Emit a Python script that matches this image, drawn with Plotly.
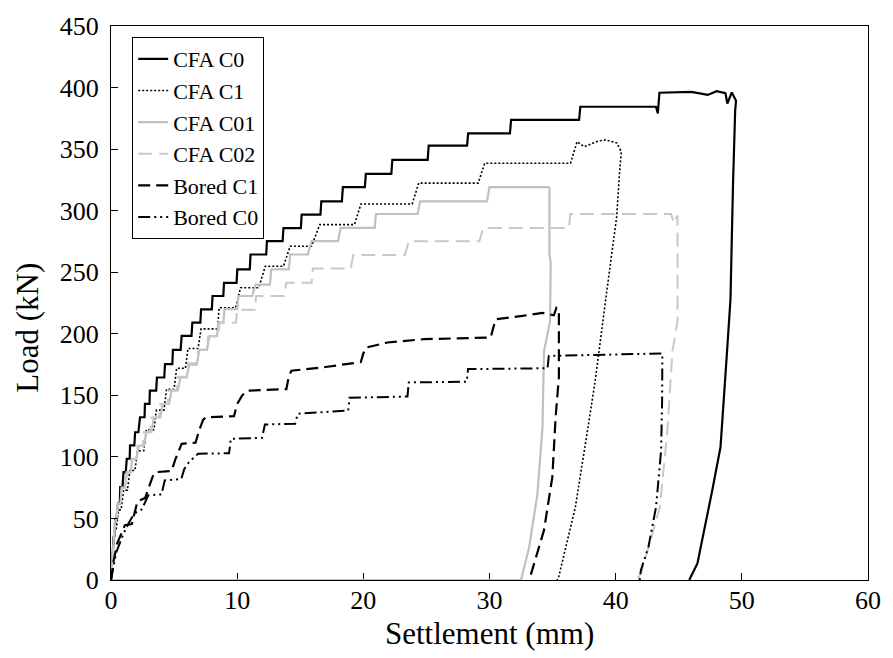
import plotly.graph_objects as go

# ---------------- data ----------------
cfa_c0_x = [0, 0.08, 0.12, 0.21, 0.26, 0.34, 0.42, 0.55, 0.70, 0.73, 0.91, 0.99, 1.17, 1.25, 1.48,
            1.51, 1.85, 1.91, 2.17, 2.30, 2.66, 2.69, 3.05, 3.08, 3.58, 3.64, 4.22, 4.28, 4.86,
            4.91, 5.52, 5.60, 6.38, 6.45, 7.08, 7.14, 7.99, 8.05, 8.90, 8.96, 9.95, 10.01, 11.00,
            11.06, 12.30, 12.36, 13.60, 13.67, 15.05, 15.11, 16.60, 16.67, 18.30, 18.38, 20.12,
            20.20, 22.22, 22.30, 25.10, 25.18, 28.22, 28.31, 31.62, 31.71, 37.10, 37.20, 43.20,
            43.34, 43.47, 46.0, 47.3, 48.0, 48.7, 48.85, 49.2, 49.54, 49.47, 49.3, 49.1, 48.83,
            48.31, 47.66, 46.48, 45.83]
cfa_c0_y = [0, 18.9, 18.9, 35.0, 35.0, 48.6, 48.6, 62.0, 62.0, 75.5, 75.5, 87.7, 87.7, 98.5, 98.5,
            109.3, 109.3, 120.0, 120.0, 132.2, 132.2, 143.0, 143.0, 153.8, 153.8, 164.5, 164.5,
            175.4, 175.4, 187.0, 187.0, 198.3, 198.3, 209.0, 209.0, 219.9, 219.9, 230.7, 230.7,
            241.4, 241.4, 252.3, 252.3, 264.4, 264.4, 275.2, 275.2, 285.9, 285.9, 296.8, 296.8,
            307.5, 307.5, 319.1, 319.1, 329.9, 329.9, 341.3, 341.3, 352.9, 352.9, 362.8, 362.8,
            373.7, 373.7, 384.4, 384.4, 379.0, 395.8, 396.5, 394.0, 397.0, 395.5, 387.0, 396.0,
            389.4, 381.0, 321.0, 228.0, 186.0, 108.0, 73.0, 13.5, 0]

cfa_c1_x = [0, 0.10, 0.15, 0.30, 0.40, 0.60, 0.80, 1.00, 1.30, 1.50, 1.90, 2.10, 2.60, 2.80, 3.40,
            3.60, 4.20, 4.40, 5.00, 5.20, 5.90, 6.10, 6.90, 7.14, 8.45, 8.57, 9.88, 10.27, 11.71,
            12.23, 13.67, 14.20, 15.89, 16.55, 19.29, 19.81, 23.87, 24.39, 29.10, 29.62, 36.42,
            36.94, 37.5, 38.6, 39.2, 40.08, 40.45, 40.30, 40.08, 39.30, 38.38, 37.73, 36.80,
            35.50, 35.37]
cfa_c1_y = [0, 20, 20, 40, 40, 57, 57, 73, 73, 89, 89, 105, 105, 122, 122, 138, 138, 155, 155,
            172, 172, 188, 188, 204, 204, 221.2, 221.2, 237.4, 237.4, 254.9, 254.9, 271.1, 271.1,
            288.7, 288.7, 305.4, 305.4, 322.4, 322.4, 338.5, 338.5, 356.0, 352.0, 356.5, 357.5,
            355.0, 348.0, 330.0, 295.0, 235.0, 162.0, 119.0, 59.0, 3.0, 0]

cfa_c01_x = [0, 0.15, 0.20, 0.30, 0.40, 0.55, 0.75, 0.85, 1.10, 1.25, 1.55, 1.70, 2.00, 2.20, 2.60,
             2.80, 3.20, 3.40, 3.90, 4.10, 4.60, 4.80, 5.30, 5.50, 6.00, 6.20, 6.80, 7.00, 7.60,
             7.80, 8.40, 8.50, 8.90, 9.00, 10.00, 10.10, 11.20, 11.45, 12.60, 12.70, 14.10, 14.20,
             15.60, 15.90, 18.00, 18.20, 20.90, 21.00, 24.30, 24.50, 29.80, 30.00, 34.70, 34.75,
             34.75, 34.85, 34.80, 34.32, 34.20, 33.80, 33.15, 32.50, 0]
cfa_c01_y = [0, 30, 30, 48, 48, 62, 62, 75, 75, 87.7, 87.7, 98.5, 98.5, 109, 109, 120, 120, 132,
             132, 143, 143, 154, 154, 164.5, 164.5, 175, 175, 187, 187, 198, 198, 209, 209, 220,
             220, 230.7, 230.7, 240, 240, 252.3, 252.3, 264.4, 264.4, 275.2, 275.2, 286, 286,
             297.3, 297.3, 307.5, 307.5, 319.1, 319.1, 318, 265, 258, 210, 186, 124, 70, 27, 0, 0]

cfa_c02_x = [0, 0.15, 0.20, 0.32, 0.42, 0.55, 0.75, 0.85, 1.15, 1.25, 1.55, 1.65, 2.00, 2.10, 2.50,
             2.60, 3.10, 3.20, 3.80, 3.90, 4.50, 4.60, 5.20, 5.30, 6.00, 6.10, 6.80, 6.90, 7.60,
             7.70, 8.50, 8.60, 9.90, 10.00, 11.40, 11.50, 13.70, 13.90, 15.90, 16.00, 19.00,
             19.20, 23.30, 23.60, 29.20, 29.50, 36.30, 36.40, 44.40, 44.60, 44.90, 44.90, 44.50,
             44.10, 43.50, 42.00, 41.65]
cfa_c02_y = [0, 28, 28, 45, 45, 62, 62, 75, 75, 87, 87, 98, 98, 109, 109, 120, 120, 132, 132,
             143, 143, 154, 154, 165, 165, 176, 176, 187, 187, 198, 198, 209, 209, 219.5, 219.5,
             230.7, 230.7, 241.4, 241.4, 253, 253, 264, 264, 275.2, 275.2, 286, 286, 297.3,
             297.3, 290, 296, 210, 186, 121, 59, 5, 0]

bored_c1_x = [0, 0.2, 0.5, 0.8, 1.1, 1.65, 1.9, 2.1, 2.7, 3.0, 3.3, 3.5, 4.8, 5.1, 5.4, 5.6, 6.7,
              7.0, 7.3, 7.5, 9.75, 10.0, 10.4, 10.8, 13.9, 14.1, 14.3, 17.0, 19.8, 20.0, 20.2,
              21.9, 24.8, 30.1, 30.3, 30.5, 32.6, 34.2, 35.1, 35.3, 35.5, 35.5, 35.5, 35.24,
              34.98, 34.32, 33.15]
bored_c1_y = [0, 15, 30, 38, 44.5, 45.5, 55, 64, 66.5, 75, 84, 87.6, 88.5, 98, 106, 110.6,
              111.5, 122, 130, 132.2, 133, 143, 150, 153.8, 155, 166, 170, 173, 177, 184,
              188.8, 192.9, 195.6, 197, 205, 211.8, 214.5, 217, 215, 221, 219, 186, 165,
              132, 83.6, 40.5, 0]

bored_c0_x = [0, 0.2, 0.4, 0.7, 1.0, 1.3, 1.6, 2.0, 2.4, 2.7, 2.95, 4.0, 4.26, 5.57, 5.8, 6.2,
              6.9, 9.36, 9.5, 11.97, 12.2, 14.6, 14.8, 18.8, 18.9, 23.5, 23.6, 28.2, 28.3,
              34.6, 34.7, 43.7, 43.7, 43.68, 43.6, 43.2, 42.6, 42.0, 41.9]
bored_c0_y = [0, 12, 22, 30, 38, 44, 50, 55, 57, 63, 68.8, 69.5, 80.9, 82, 90, 96, 102.5, 103,
              114.7, 115.5, 126.3, 127, 135, 137.6, 148, 149, 160.5, 161, 171.3, 172, 182,
              184, 174, 145, 105, 59.3, 27, 8, 0]

series_names = ["CFA C0", "CFA C1", "CFA C01", "CFA C02", "Bored C1", "Bored C0"]
x_ticks = [0, 10, 20, 30, 40, 50, 60]
y_ticks = [0, 50, 100, 150, 200, 250, 300, 350, 400, 450]

# ---------------- styles ----------------
styles = [
    dict(color="#000000", width=2.2, dash="solid"),
    dict(color="#000000", width=1.6, dash="2px,2px"),
    dict(color="#c0c0c0", width=2.2, dash="solid"),
    dict(color="#c8c8c8", width=2.0, dash="14px,7px"),
    dict(color="#000000", width=2.2, dash="12px,6px"),
    dict(color="#000000", width=2.0, dash="12px,4px,2px,4px,2px,4px"),
]
data_xy = [(cfa_c0_x, cfa_c0_y), (cfa_c1_x, cfa_c1_y), (cfa_c01_x, cfa_c01_y),
           (cfa_c02_x, cfa_c02_y), (bored_c1_x, bored_c1_y), (bored_c0_x, bored_c0_y)]

FONT = "Liberation Serif, Times New Roman, serif"

fig = go.Figure()
for name, (xs, ys), st in zip(series_names, data_xy, styles):
    fig.add_trace(go.Scatter(x=xs, y=ys, mode="lines", name=name, line=st))

fig.update_layout(
    width=893, height=658,
    margin=dict(l=111, r=17, t=24, b=78),
    paper_bgcolor="white", plot_bgcolor="white",
    font=dict(family=FONT, color="black", size=26),
    showlegend=True,
    legend=dict(x=0.028, y=0.98, xanchor="left", yanchor="top",
                bgcolor="white", bordercolor="black", borderwidth=1,
                font=dict(family=FONT, size=22, color="black"),
                tracegroupgap=0),
    xaxis=dict(range=[0, 60], tickvals=x_ticks, ticks="inside", ticklen=7, tickcolor="black",
               showline=True, linecolor="black", linewidth=1, mirror=True, showgrid=False,
               zeroline=False, tickfont=dict(size=26), layer="below traces",
               ticklabelstandoff=-3),
    yaxis=dict(range=[0, 450], tickvals=y_ticks, ticks="inside", ticklen=7, tickcolor="black",
               showline=True, linecolor="black", linewidth=1, mirror=True, showgrid=False,
               zeroline=False, tickfont=dict(size=26), ticklabelstandoff=6),
    annotations=[
        dict(text="Settlement (mm)", xref="paper", yref="paper", x=0.5, y=-0.097,
             xanchor="center", yanchor="middle", showarrow=False, font=dict(size=31)),
        dict(text="Load (kN)", xref="paper", yref="paper", x=-0.11, y=0.455,
             xanchor="center", yanchor="middle", showarrow=False, textangle=-90,
             font=dict(size=31)),
    ],
)

fig.write_html("out.html")
